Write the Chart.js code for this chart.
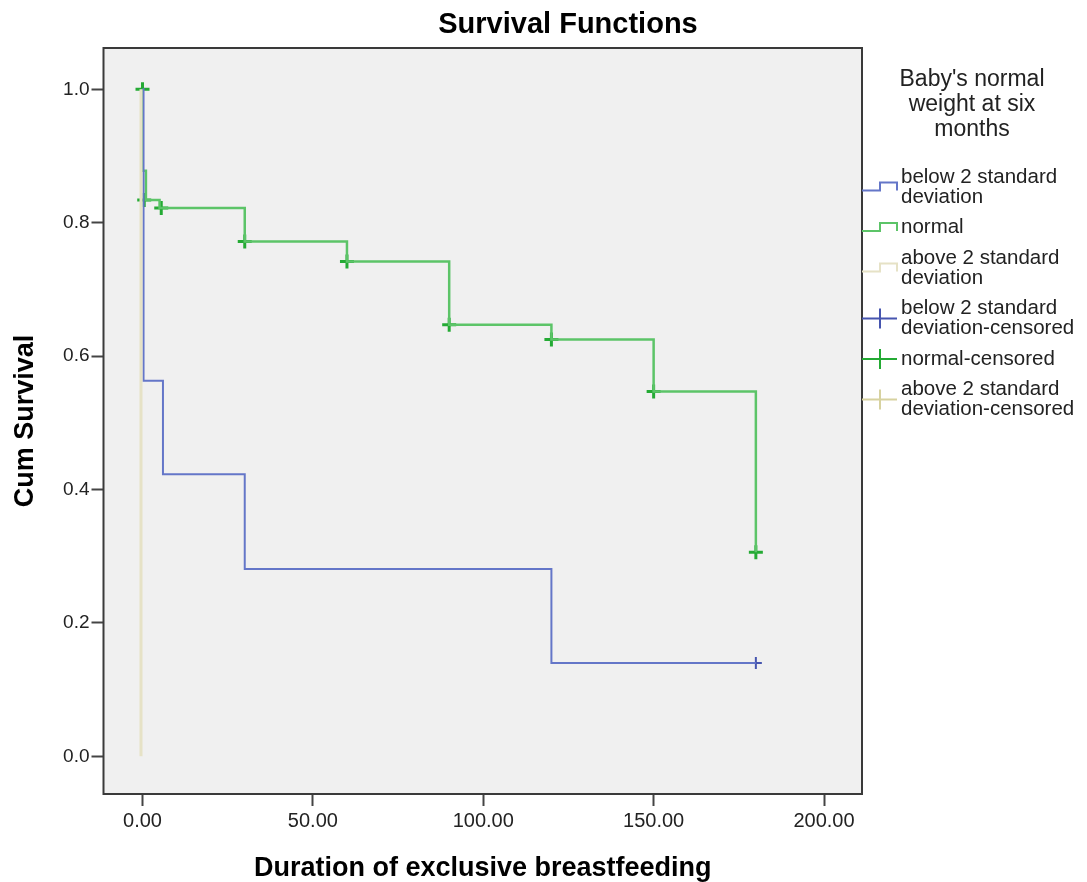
<!DOCTYPE html>
<html>
<head>
<meta charset="utf-8">
<script src="https://cdn.jsdelivr.net/npm/chart.js@4.4.1/dist/chart.umd.min.js"></script>
<style>
  body { margin: 0; background: #fff; }
  #wrap { width: 1087px; height: 882px; }
</style>
</head>
<body>
<div id="wrap"><canvas id="myChart" width="1087" height="882"></canvas></div>
<script>
// survival curves (time, cum survival)
const normalTime = [0, 0, 1, 5, 30, 60, 90, 120, 150, 180];
const normalSurv = [1.0, 0.878, 0.834, 0.822, 0.772, 0.742, 0.647, 0.625, 0.547, 0.306];
const belowTime = [0, 0.3, 6, 30, 120, 180];
const belowSurv = [1.0, 0.563, 0.423, 0.281, 0.140, 0.140];
const aboveTime = [-0.45, -0.45];
const aboveSurv = [1.0, 0.0];

// censored marks
const normalCensTime = [0, 0.5, 5.5, 30, 60, 90, 120, 150, 180];
const normalCensSurv = [1.0, 0.834, 0.822, 0.772, 0.742, 0.647, 0.625, 0.547, 0.306];
const belowCensTime = [180];
const belowCensSurv = [0.140];
const aboveCensTime = [];
const aboveCensSurv = [];

const xTickVals = [0, 50, 100, 150, 200];
const yTickVals = [0, 0.2, 0.4, 0.6, 0.8, 1.0];

const chartTitle = "Survival Functions";
const xTitle = "Duration of exclusive breastfeeding";
const yTitle = "Cum Survival";
const legendTitle = ["Baby's normal", "weight at six", "months"];
const legendLabels = [
    ["below 2 standard", "deviation"],
    ["normal"],
    ["above 2 standard", "deviation"],
    ["below 2 standard", "deviation-censored"],
    ["normal-censored"],
    ["above 2 standard", "deviation-censored"]
];

const blueLine = "rgb(100,118,200)";
const greenLine = "rgb(92,196,104)";
const beigeLine = "rgb(230,226,198)";
const blueMark = "rgb(70,85,175)";
const greenMark = "rgb(36,170,52)";
const beigeMark = "rgb(215,210,160)";

Chart.defaults.font.family = "'Liberation Sans', Arial, sans-serif";
Chart.defaults.color = "#222";

function toPoints(xs, ys){
    let returnArray = [];
    for (let i = 0; i < xs.length; i++){
        returnArray.push({x: xs[i], y: ys[i]});
    }
    return returnArray;
}

const decor = {
    id: 'decor',
    beforeDraw(chart){
        const ctx = chart.ctx;
        const a = chart.chartArea;
        ctx.save();
        ctx.fillStyle = '#fff';
        ctx.fillRect(0, 0, chart.width, chart.height);
        ctx.fillStyle = '#f0f0f0';
        ctx.fillRect(a.left, a.top, a.right - a.left, a.bottom - a.top);
        ctx.restore();
    },
    afterDraw(chart){
        const ctx = chart.ctx;
        const a = chart.chartArea;
        ctx.save();
        // plot frame
        ctx.strokeStyle = '#3a3a3a';
        ctx.lineWidth = 2;
        ctx.strokeRect(a.left, a.top, a.right - a.left, a.bottom - a.top);

        // main title
        ctx.fillStyle = '#000';
        ctx.font = "bold 29px 'Liberation Sans', Arial, sans-serif";
        ctx.textAlign = 'center';
        ctx.textBaseline = 'middle';
        ctx.fillText(chartTitle, 568, 25);

        // legend title
        ctx.fillStyle = '#222';
        ctx.font = "23px 'Liberation Sans', Arial, sans-serif";
        for (let i = 0; i < legendTitle.length; i++){
            ctx.fillText(legendTitle[i], 972, 80 + i * 25);
        }

        // legend items
        const colors = [blueLine, greenLine, beigeLine, blueMark, greenMark, beigeMark];
        ctx.font = "20.5px 'Liberation Sans', Arial, sans-serif";
        ctx.textAlign = 'left';
        let y = 177;
        const x0 = a.right, xm = 880, x1 = 897;
        for (let i = 0; i < legendLabels.length; i++){
            const lines = legendLabels[i];
            const c = y + (lines.length - 1) * 10;
            ctx.strokeStyle = colors[i];
            ctx.lineWidth = 2;
            ctx.beginPath();
            if (i < 3){
                ctx.moveTo(x0, c + 3.5);
                ctx.lineTo(xm, c + 3.5);
                ctx.lineTo(xm, c - 4.5);
                ctx.lineTo(x1, c - 4.5);
                ctx.lineTo(x1, c + 3.5);
            } else {
                ctx.moveTo(x0, c);
                ctx.lineTo(x1, c);
                ctx.moveTo(xm, c - 10);
                ctx.lineTo(xm, c + 10);
            }
            ctx.stroke();
            ctx.fillStyle = '#222';
            for (let j = 0; j < lines.length; j++){
                ctx.fillText(lines[j], 901, y + j * 20);
            }
            y += lines.length * 20 + 10.5;
        }
        ctx.restore();
    }
};

new Chart("myChart", {
    type: "scatter",
    data: {
        datasets: [{
            label: 'above 2 standard deviation',
            data: toPoints(aboveTime, aboveSurv),
            showLine: true,
            stepped: 'before',
            borderColor: beigeLine,
            borderWidth: 3,
            pointRadius: 0
        }, {
            label: 'below 2 standard deviation',
            data: toPoints(belowTime, belowSurv),
            showLine: true,
            stepped: 'before',
            borderColor: blueLine,
            borderWidth: 2,
            pointRadius: 0
        }, {
            label: 'normal',
            data: toPoints(normalTime, normalSurv),
            showLine: true,
            stepped: 'before',
            borderColor: greenLine,
            borderWidth: 2.5,
            pointRadius: 0
        }, {
            label: 'below 2 standard deviation-censored',
            data: toPoints(belowCensTime, belowCensSurv),
            showLine: false,
            pointStyle: 'cross',
            pointRadius: 6,
            pointBorderWidth: 2,
            pointBorderColor: blueMark,
            pointBackgroundColor: blueMark
        }, {
            label: 'normal-censored',
            data: toPoints(normalCensTime, normalCensSurv),
            showLine: false,
            pointStyle: 'cross',
            pointRadius: 7,
            pointBorderWidth: 3,
            pointBorderColor: greenMark,
            pointBackgroundColor: greenMark
        }, {
            label: 'above 2 standard deviation-censored',
            data: toPoints(aboveCensTime, aboveCensSurv),
            showLine: false,
            pointStyle: 'cross',
            pointRadius: 6,
            pointBorderWidth: 2,
            pointBorderColor: beigeMark
        }]
    },
    options: {
        responsive: false,
        animation: false,
        layout: { padding: { top: 48, right: 225, left: 0, bottom: 0 } },
        plugins: {
            legend: { display: false },
            tooltip: { enabled: false }
        },
        scales: {
            x: {
                type: 'linear',
                min: -11.45,
                max: 211.15,
                afterBuildTicks: (scale) => { scale.ticks = xTickVals.map(v => ({value: v})); },
                afterFit: (scale) => { scale.height = 88; },
                ticks: {
                    callback: (v) => Number(v).toFixed(2),
                    font: { size: 20 },
                    color: '#222',
                    padding: 3,
                    maxRotation: 0
                },
                grid: { drawOnChartArea: false, tickLength: 12, tickWidth: 2, tickColor: '#444' },
                border: { display: false },
                title: {
                    display: true,
                    text: xTitle,
                    font: { size: 27, weight: 'bold', lineHeight: 1 },
                    color: '#000',
                    padding: { top: 0, bottom: 0 }
                }
            },
            y: {
                type: 'linear',
                min: -0.0565,
                max: 1.062,
                afterBuildTicks: (scale) => { scale.ticks = yTickVals.map(v => ({value: v})); },
                afterFit: (scale) => { scale.width = 103.5; },
                ticks: {
                    callback: (v) => Number(v).toFixed(1),
                    font: { size: 19 },
                    color: '#222',
                    padding: 2
                },
                grid: { drawOnChartArea: false, tickLength: 12, tickWidth: 2, tickColor: '#444' },
                border: { display: false },
                title: {
                    display: true,
                    text: yTitle,
                    font: { size: 27, weight: 'bold', lineHeight: 1 },
                    color: '#000',
                    padding: { top: 12, bottom: 0 }
                }
            }
        }
    },
    plugins: [decor]
});
</script>
</body>
</html>
